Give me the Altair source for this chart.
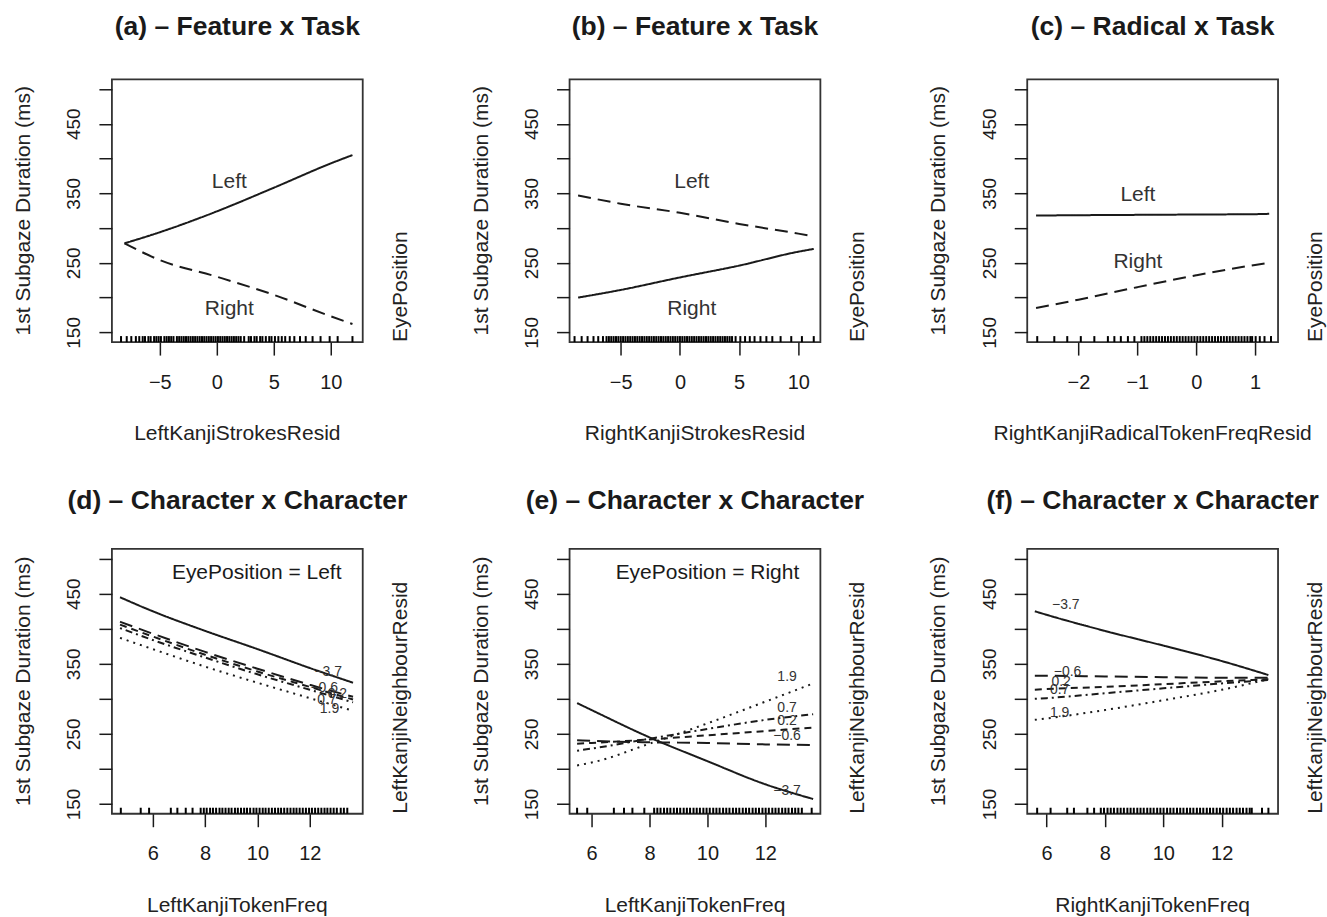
import altair as alt
import pandas as pd

FONT = "Liberation Sans"
INK = "#1a1a1a"
Y_DOMAIN = [136, 514]
Y_TICKS = [150, 200, 250, 300, 350, 400, 450, 500]

# line styles (R lty-like)
STYLE_NAMES = ["solid", "long", "dash", "dotdash", "dot"]
STYLE_DASH = [[1, 0], [13, 7], [7, 5], [2, 4, 7, 4], [2, 5]]

# ---------------- Panel (a) ----------------
a_x = [-8.1, -5, 0, 5, 10, 11.9]
a_left = [278, 294, 324, 358, 393, 405]
a_right = [278, 254, 230, 204, 173, 162]
a_rug = [float(v) for v in (
    "-8.4 -7.9 -7.5 -7.1 -6.8 -6.5 -6.3 -6.0 -5.8 -5.5 -5.3 -5.1 -4.9 -4.6 -4.4 -4.2 -4.0 -3.8 -3.5 -3.3 "
    "-3.1 -2.9 -2.7 -2.5 -2.3 -2.1 -1.9 -1.7 -1.5 -1.3 -1.1 -0.9 -0.7 -0.5 -0.3 -0.1 0.1 0.3 0.5 0.7 0.9 "
    "1.1 1.3 1.5 1.7 1.9 2.1 2.4 2.8 3.0 3.3 3.5 3.8 4.0 4.3 4.6 4.8 5.1 5.4 5.7 6.0 6.4 6.8 "
    "7.3 7.8 8.4 9.1 9.9 10.6 11.9").split()]

# ---------------- Panel (b) ----------------
b_x = [-8.6, -5, 0, 5, 10, 11.3]
b_left = [347, 335, 322, 306, 292, 288]
b_right = [200, 211, 229, 246, 266, 270]
b_rug = [float(v) for v in (
    "-8.9 -8.3 -7.8 -7.3 -6.9 -6.5 -6.2 -6.0 -5.8 -5.6 -5.4 -5.2 -5.0 -4.8 -4.6 -4.4 -4.2 -4.0 -3.8 -3.6 "
    "-3.4 -3.2 -3.0 -2.8 -2.6 -2.4 -2.2 -2.0 -1.8 -1.6 -1.4 -1.2 -1.0 -0.8 -0.6 -0.4 -0.2 0.0 0.2 0.4 0.6 "
    "0.8 1.0 1.2 1.4 1.6 1.8 2.0 2.2 2.4 2.6 2.8 3.0 3.2 3.4 3.6 3.8 4.0 4.2 4.4 "
    "4.7 5.1 5.5 5.9 6.3 6.8 7.3 7.8 8.5 9.4 10.3 11.3").split()]

# ---------------- Panel (c) ----------------
c_x = [-2.72, -2, -1, 0, 1, 1.24]
c_left = [318, 318.5, 319, 319.5, 320, 320.5]
c_right = [185, 197, 215, 232, 247, 250]
c_rug = [float(v) for v in (
    "-2.70 -2.41 -2.19 -1.96 -1.73 -1.50 -1.39 -1.28 -1.16 -1.05 "
    "-0.93 -0.88 -0.83 -0.78 -0.73 -0.68 -0.63 -0.58 -0.53 -0.48 -0.43 -0.38 -0.33 -0.28 -0.23 -0.18 "
    "-0.13 -0.08 -0.03 0.02 0.07 0.12 0.17 0.22 0.27 0.32 0.37 0.42 0.47 0.52 0.57 0.62 0.67 0.72 0.77 "
    "0.82 0.87 0.92 0.95 1.01 1.08 1.16 1.27").split()]

# ---------------- Panel (d) ----------------
d_x = [4.75, 6, 8, 10, 12, 13.65]
d_m37 = [445, 425, 397, 371, 344, 323]
d_m06 = [410, 393, 367, 343, 320, 303]
d_02 = [406, 389, 363, 339, 317, 299]
d_07 = [401, 384, 359, 335, 313, 295]
d_19 = [387, 371, 346, 323, 301, 283]
d_rug = [float(v) for v in (
    "4.78 5.54 5.86 6.69 6.94 7.26 7.52 7.83 7.95 8.06 8.19 8.30 8.42 8.55 8.66 8.78 8.90 9.01 9.14 9.25 "
    "9.37 9.49 9.60 9.72 9.85 9.96 10.08 10.20 10.31 10.43 10.55 10.67 10.79 10.90 11.02 11.14 11.26 "
    "11.38 11.49 11.61 11.73 11.85 11.97 12.08 12.20 12.32 12.44 12.56 12.67 12.79 12.91 13.03 13.18 "
    "13.30 13.43").split()]
d_lab_x = [12.7, 12.55, 13.05, 12.65, 12.75]
d_lab_y = [338, 316, 307, 298, 285]

# ---------------- Panel (e) ----------------
e_x = [5.5, 6, 8, 10, 12, 13.65]
e_m37 = [294, 284, 245, 211, 178, 157]
e_m06 = [241, 240, 238, 237, 235, 234]
e_02 = [236, 237, 242, 248, 254, 259]
e_07 = [226, 229, 243, 257, 270, 278]
e_19 = [205, 209, 236, 265, 296, 322]
e_rug = [float(v) for v in (
    "5.50 5.85 6.77 7.12 7.41 7.82 8.16 8.27 8.38 8.50 8.61 8.72 8.84 8.95 9.06 9.18 9.29 9.40 9.52 "
    "9.63 9.74 9.86 9.97 10.08 10.20 10.31 10.42 10.54 10.65 10.76 10.88 10.99 11.10 11.22 11.33 11.44 "
    "11.56 11.67 11.78 11.90 12.01 12.12 12.24 12.35 12.46 12.58 12.69 12.80 12.92 13.03 13.14 13.26 "
    "13.60").split()]
e_lab_x = [12.75, 12.75, 12.75, 12.75, 12.75]
e_lab_y = [168, 247, 268, 287, 331]

# ---------------- Panel (f) ----------------
f_x = [5.6, 6, 8, 10, 12, 13.6]
f_m37 = [425, 420, 397, 376, 354, 334]
f_m06 = [333, 333, 332, 331, 330, 330]
f_02 = [313, 314, 317, 321, 325, 328]
f_07 = [300, 301, 308, 315, 322, 327]
f_19 = [270, 272, 284, 298, 313, 328]
f_rug = [float(v) for v in (
    "5.68 6.14 6.71 6.94 7.40 7.63 7.86 7.97 8.09 8.20 8.31 8.43 8.54 8.65 8.77 8.88 8.99 9.11 9.22 "
    "9.33 9.45 9.56 9.67 9.79 9.90 10.01 10.13 10.24 10.35 10.47 10.58 10.69 10.81 10.92 11.03 11.15 "
    "11.26 11.37 11.49 11.60 11.71 11.83 11.94 12.05 12.17 12.28 12.39 12.51 12.62 12.73 12.85 12.96 "
    "13.03 13.38 13.60").split()]
f_lab_x = [6.66, 6.72, 6.5, 6.45, 6.45]
f_lab_y = [434, 338, 324, 312, 280]

levels = ["\u22123.7", "\u22120.6", "0.2", "0.7", "1.9"]
level_styles = ["solid", "long", "dash", "dotdash", "dot"]


def panel(title, xtitle, rtitle, xdom, xticks, height, series,
          rug, labels=None, label_size=21, corner=None, title_dy=52):
    width = 251
    xs = alt.Scale(domain=xdom, nice=False, zero=False)
    ys = alt.Scale(domain=Y_DOMAIN, nice=False, zero=False)
    xaxis = alt.Axis(values=xticks, title=None, domain=False, grid=False,
                     tickSize=13, tickWidth=1.5, tickColor=INK,
                     labelFont=FONT, labelFontSize=20, labelColor=INK,
                     labelPadding=27, labelBaseline="middle",
                     labelFlush=False, labelOverlap=False)
    yaxis = alt.Axis(values=Y_TICKS, title=None, domain=False, grid=False,
                     tickSize=13, tickWidth=1.5, tickColor=INK,
                     labelFont=FONT, labelFontSize=19, labelColor=INK,
                     labelAngle=270, labelAlign="center", labelBaseline="middle",
                     labelPadding=25, labelFlush=False, labelOverlap=False,
                     labelExpr="datum.value % 100 == 50 ? datum.label : ''")
    X = alt.X("x:Q", scale=xs, axis=xaxis)
    Y = alt.Y("y:Q", scale=ys, axis=yaxis)

    rows = []
    for name, style, sx, sy in series:
        for xv, yv in zip(sx, sy):
            rows.append({"x": xv, "y": yv, "s": name, "style": style})
    lines = alt.Chart(pd.DataFrame(rows)).mark_line(
        color=INK, strokeWidth=2, interpolate="monotone"
    ).encode(
        x=X, y=Y,
        detail="s:N",
        strokeDash=alt.StrokeDash("style:N",
                                  scale=alt.Scale(domain=STYLE_NAMES, range=STYLE_DASH),
                                  legend=None),
    )

    rugc = alt.Chart(pd.DataFrame({"x": rug})).mark_rule(
        color="#000", strokeWidth=2
    ).encode(x=X, y=alt.value(height), y2=alt.value(height - 6))

    layers = [rugc, lines]

    if labels is not None:
        lab = alt.Chart(pd.DataFrame(labels)).mark_text(
            font=FONT, fontSize=label_size, color="#333", baseline="middle"
        ).encode(x=X, y=Y, text="t:N")
        layers.append(lab)

    if corner is not None:
        cor = alt.Chart(pd.DataFrame(corner)).mark_text(
            font=FONT, fontSize=21, color=INK, baseline="middle"
        ).encode(x=X, y=Y, text="t:N")
        layers.append(cor)

    ttl = alt.Chart(pd.DataFrame({"t": [title]})).mark_text(
        font=FONT, fontSize=26.5, fontWeight="bold", color=INK, baseline="middle"
    ).encode(x=alt.value(width / 2), y=alt.value(-title_dy), text="t:N")
    xt = alt.Chart(pd.DataFrame({"t": [xtitle]})).mark_text(
        font=FONT, fontSize=21, color="#222", baseline="middle"
    ).encode(x=alt.value(width / 2), y=alt.value(height + 92), text="t:N")
    yt = alt.Chart(pd.DataFrame({"t": ["1st Subgaze Duration (ms)"]})).mark_text(
        font=FONT, fontSize=21, color="#222", baseline="middle", angle=270
    ).encode(x=alt.value(-88), y=alt.value(height / 2), text="t:N")
    rt = alt.Chart(pd.DataFrame({"t": [rtitle]})).mark_text(
        font=FONT, fontSize=21, color="#222", baseline="middle", align="left", angle=270
    ).encode(x=alt.value(width + 38), y=alt.value(height), text="t:N")
    layers += [ttl, xt, yt, rt]

    return alt.layer(*layers).properties(width=width, height=height)


def level_series(xs, ys_list):
    return [(lv, st, xs, ys) for lv, st, ys in zip(levels, level_styles, ys_list)]


pa = panel("(a) \u2013 Feature x Task", "LeftKanjiStrokesResid", "EyePosition",
           [-9.2, 12.8], [-5, 0, 5, 10], 263,
           [("Left", "solid", a_x, a_left), ("Right", "long", a_x, a_right)], a_rug,
           labels={"x": [1.1, 1.1], "y": [366, 183], "t": ["Left", "Right"]}, title_dy=52)
pb = panel("(b) \u2013 Feature x Task", "RightKanjiStrokesResid", "EyePosition",
           [-9.32, 11.86], [-5, 0, 5, 10], 263,
           [("Left", "long", b_x, b_left), ("Right", "solid", b_x, b_right)], b_rug,
           labels={"x": [1.0, 1.0], "y": [366, 183], "t": ["Left", "Right"]}, title_dy=52)
pc = panel("(c) \u2013 Radical x Task", "RightKanjiRadicalTokenFreqResid", "EyePosition",
           [-2.87, 1.39], [-2, -1, 0, 1], 263,
           [("Left", "solid", c_x, c_left), ("Right", "long", c_x, c_right)], c_rug,
           labels={"x": [-0.99, -0.99], "y": [348, 251], "t": ["Left", "Right"]}, title_dy=52)

pd_ = panel("(d) \u2013 Character x Character", "LeftKanjiTokenFreq", "LeftKanjiNeighbourResid",
            [4.44, 14.02], [6, 8, 10, 12], 265,
            level_series(d_x, [d_m37, d_m06, d_02, d_07, d_19]), d_rug,
            labels={"x": d_lab_x, "y": d_lab_y, "t": levels}, label_size=14,
            corner={"x": [9.97], "y": [480], "t": ["EyePosition = Left"]}, title_dy=48)
pe = panel("(e) \u2013 Character x Character", "LeftKanjiTokenFreq", "LeftKanjiNeighbourResid",
           [5.24, 13.9], [6, 8, 10, 12], 265,
           level_series(e_x, [e_m37, e_m06, e_02, e_07, e_19]), e_rug,
           labels={"x": e_lab_x, "y": e_lab_y, "t": levels}, label_size=14,
           corner={"x": [10.0], "y": [480], "t": ["EyePosition = Right"]}, title_dy=48)
pf = panel("(f) \u2013 Character x Character", "RightKanjiTokenFreq", "LeftKanjiNeighbourResid",
           [5.34, 13.93], [6, 8, 10, 12], 265,
           level_series(f_x, [f_m37, f_m06, f_02, f_07, f_19]), f_rug,
           labels={"x": f_lab_x, "y": f_lab_y, "t": levels}, label_size=14, title_dy=48)

chart = alt.concat(pa, pb, pc, pd_, pe, pf, columns=3, spacing=207, bounds="flush").properties(
    padding={"left": 12, "top": 13, "right": 0, "bottom": 0},
    background="white",
).resolve_scale(x="independent", y="independent").configure_view(stroke="#333", strokeWidth=1.8)

chart.save("out.html", embed_options={"renderer": "svg", "actions": False})
